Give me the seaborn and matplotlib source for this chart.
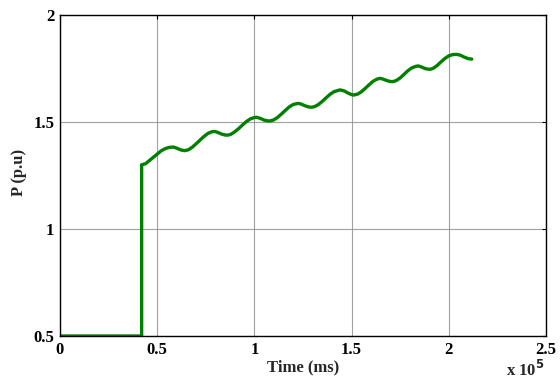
import matplotlib
matplotlib.use("Agg")
import matplotlib.pyplot as plt
import numpy as np
import pandas as pd
import seaborn as sns

# Time samples (ms) and active power (p.u.)
time_ms = [
    0, 42000, 42000, 44000, 46000, 48000, 50000, 52000, 54000, 56000, 58300,
    60000, 62000, 64000, 66000, 68000, 70000, 72000, 74000, 76000, 78000,
    79500, 81000, 83000, 85000, 86600, 88000, 90000, 92000, 94000, 96000,
    98000, 100000, 101200, 103000, 105000, 107000, 108000, 110000, 112000,
    114000, 116000, 118000, 120000, 122600, 124000, 126000, 128000, 129500,
    131000, 133000, 135000, 137000, 139000, 141000, 144000, 146000, 148000,
    150000, 151000, 153000, 155000, 157000, 159000, 161000, 163000, 164600,
    166000, 168000, 170000, 171500, 173000, 175000, 177000, 179000, 181000,
    183000, 184300, 186000, 188000, 190300, 192000, 194000, 196000, 198000,
    200000, 202000, 204000, 206000, 208000, 210000, 211800,
]
power_pu = [
    0.5, 0.5, 1.300, 1.305, 1.320, 1.335, 1.350, 1.365, 1.375, 1.381, 1.383,
    1.378, 1.370, 1.366, 1.370, 1.382, 1.398, 1.415, 1.432, 1.446, 1.454,
    1.456, 1.452, 1.444, 1.439, 1.439, 1.443, 1.455, 1.470, 1.487, 1.503,
    1.515, 1.521, 1.522, 1.517, 1.509, 1.505, 1.505, 1.510, 1.522,
    1.538, 1.555, 1.571, 1.582, 1.587, 1.584, 1.576, 1.570, 1.569,
    1.572, 1.582, 1.597, 1.614, 1.630, 1.642, 1.650, 1.646, 1.636,
    1.628, 1.626, 1.630, 1.641, 1.657, 1.674, 1.690, 1.700, 1.704,
    1.701, 1.694, 1.689, 1.689, 1.694, 1.706, 1.723, 1.740, 1.753,
    1.760, 1.762, 1.757, 1.749, 1.746, 1.751, 1.764, 1.781, 1.797,
    1.809, 1.815, 1.816, 1.812, 1.803, 1.796, 1.794,
]

x_ticks = [0, 50000, 100000, 150000, 200000, 250000]
x_tick_labels = ["0", "0.5", "1", "1.5", "2", "2.5"]
y_ticks = [0.5, 1, 1.5, 2]
y_tick_labels = ["0.5", "1", "1.5", "2"]

df = pd.DataFrame({"time": time_ms, "power": power_pu})

sns.set_style("white")
plt.rcParams["font.family"] = ["Liberation Serif", "DejaVu Serif"]
plt.rcParams["font.weight"] = "bold"

fig = plt.figure(figsize=(5.6, 3.83), dpi=100)
ax = fig.add_axes([60 / 560, 47 / 383, 486 / 560, 321 / 383])

sns.lineplot(data=df, x="time", y="power", ax=ax, estimator=None, sort=False,
             color="#008000", linewidth=2.4)

ax.set_xlim(0, 250000)
ax.set_ylim(0.5, 2)
ax.set_xticks(x_ticks)
ax.set_xticklabels(x_tick_labels)
ax.set_yticks(y_ticks)
ax.set_yticklabels(y_tick_labels)

ax.grid(True, color="#8a8a8a", linewidth=0.8, linestyle="-", alpha=0.8)
ax.set_axisbelow(True)

for s in ax.spines.values():
    s.set_color("black")
    s.set_linewidth(1.0)
    s.set_visible(True)

ax.tick_params(axis="both", direction="in", length=3, width=0.8,
               top=True, right=True, labelsize=12, colors="black", pad=4)
for lab in ax.get_xticklabels() + ax.get_yticklabels():
    lab.set_fontweight("bold")

ax.set_xlabel("Time (ms)", fontsize=12, fontweight="bold", labelpad=1)
ax.set_ylabel("P (p.u)", fontsize=12, fontweight="bold")
ax.yaxis.set_label_coords(-0.068, 0.51)

fig.text(545 / 560, 1 - 376 / 383, r"x 10$^{\mathbf{5}}$", ha="right", va="baseline",
         fontsize=12, fontweight="bold")

fig.savefig("out.png", dpi=100)
